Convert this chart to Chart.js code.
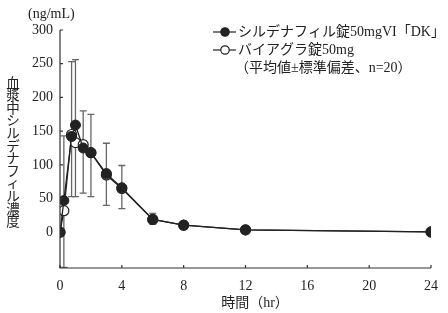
<!DOCTYPE html>
<html>
<head>
<meta charset="utf-8">
<script src="https://cdn.jsdelivr.net/npm/chart.js@4"></script>
<style>
  html, body { margin: 0; padding: 0; background: #fff; }
  #wrap { width: 448px; height: 313px; }
</style>
</head>
<body>
<div id="wrap"><canvas id="pk-chart"></canvas></div>
<script>
// time (hr)
const hours = [0, 0.25, 0.75, 1, 1.5, 2, 3, 4, 6, 8, 12, 24];
// シルデナフィル錠50mgVI「DK」 mean (ng/mL)
const genericMean = [0, 47, 142, 159, 125, 118, 87, 66, 19, 10.5, 3.5, 0.5];
// バイアグラ錠50mg mean (ng/mL)
const viagraMean = [0, 32, 145, 133, 130, 118, 85, 65, 19, 10.5, 3.5, 0.5];
// mean ± SD bars, lower / upper ends
const sdLow = [null, -52, 53, 53, 58, 53, 40, 35, 12, null, null, null];
const sdHigh = [null, 143, 253, 256, 180, 175, 132, 99, 28, null, null, null];
const yTicks = [0, 50, 100, 150, 200, 250, 300];
const xTicks = [0, 4, 8, 12, 16, 20, 24];
const legendLabels = ['シルデナフィル錠50mgVI「DK」', 'バイアグラ錠50mg', '（平均値±標準偏差、n=20）'];
const yTitle = '血漿中シルデナフィル濃度';
const xTitle = '時間（hr）';
const unitLabel = '(ng/mL)';

const FONT = '"Liberation Serif", "Noto Sans CJK JP", serif';
const INK = '#222';

const extras = {
  id: 'extras',
  beforeDatasetsDraw(chart) {
    const { ctx, scales: { x, y } } = chart;
    ctx.save();
    ctx.strokeStyle = '#666';
    ctx.lineWidth = 1.3;
    hours.forEach((h, i) => {
      if (sdLow[i] == null) return;
      const px = x.getPixelForValue(h);
      const lo = y.getPixelForValue(sdLow[i]);
      const hi = y.getPixelForValue(sdHigh[i]);
      ctx.beginPath();
      ctx.moveTo(px, lo); ctx.lineTo(px, hi);
      ctx.moveTo(px - 3.5, lo); ctx.lineTo(px + 3.5, lo);
      ctx.moveTo(px - 3.5, hi); ctx.lineTo(px + 3.5, hi);
      ctx.stroke();
    });
    ctx.restore();
  },
  afterDraw(chart) {
    const { ctx, chartArea, scales: { x, y } } = chart;
    ctx.save();
    // axes
    ctx.strokeStyle = '#333';
    ctx.lineWidth = 1.2;
    ctx.beginPath();
    ctx.moveTo(chartArea.left, y.getPixelForValue(300));
    ctx.lineTo(chartArea.left, chartArea.bottom);
    ctx.lineTo(chartArea.right, chartArea.bottom);
    ctx.stroke();
    ctx.beginPath();
    yTicks.forEach(v => {
      const py = y.getPixelForValue(v);
      ctx.moveTo(chartArea.left, py); ctx.lineTo(chartArea.left + 3, py);
    });
    xTicks.forEach(v => {
      const px = x.getPixelForValue(v);
      ctx.moveTo(px, chartArea.bottom); ctx.lineTo(px, chartArea.bottom - 3);
    });
    ctx.stroke();

    ctx.fillStyle = INK;
    ctx.font = '14px ' + FONT;
    ctx.textBaseline = 'middle';
    ctx.textAlign = 'left';
    ctx.fillText(unitLabel, 28, 14);

    // vertical y-axis title
    ctx.textAlign = 'center';
    ctx.font = '13.5px ' + FONT;
    [...yTitle].forEach((ch, i) => {
      ctx.fillText(ch, 13, 84 + i * 12.6);
    });

    // x title
    ctx.font = '14px ' + FONT;
    ctx.fillText(xTitle, 255, 303);

    // legend
    const lx = 213, rows = [32, 50];
    ctx.lineWidth = 1.2;
    rows.forEach((ry, i) => {
      ctx.strokeStyle = INK;
      ctx.beginPath();
      ctx.moveTo(lx, ry); ctx.lineTo(lx + 23, ry);
      ctx.stroke();
      ctx.beginPath();
      ctx.arc(lx + 12, ry, 4.2, 0, Math.PI * 2);
      ctx.fillStyle = i === 0 ? INK : '#fff';
      ctx.fill();
      ctx.stroke();
    });
    ctx.fillStyle = INK;
    ctx.textAlign = 'left';
    ctx.font = '14px ' + FONT;
    ctx.fillText(legendLabels[0], 238, 32);
    ctx.fillText(legendLabels[1], 238, 50);
    ctx.fillText(legendLabels[2], 235, 68);
    ctx.restore();
  }
};

new Chart(document.getElementById('pk-chart'), {
  type: 'line',
  data: {
    datasets: [
      {
        label: legendLabels[0],
        data: hours.map((h, i) => ({ x: h, y: genericMean[i] })),
        borderColor: INK,
        borderWidth: 1.3,
        pointRadius: 5,
        pointBackgroundColor: INK,
        pointBorderColor: INK,
        pointBorderWidth: 1,
        order: 0
      },
      {
        label: legendLabels[1],
        data: hours.map((h, i) => ({ x: h, y: viagraMean[i] })),
        borderColor: INK,
        borderWidth: 1.3,
        pointRadius: 5,
        pointBackgroundColor: '#fff',
        pointBorderColor: INK,
        pointBorderWidth: 1.2,
        order: 1
      }
    ]
  },
  options: {
    responsive: true,
    maintainAspectRatio: false,
    animation: false,
    layout: { padding: { left: 0, top: 30, right: 16, bottom: 0 } },
    plugins: { legend: { display: false }, tooltip: { enabled: false } },
    scales: {
      x: {
        type: 'linear',
        min: 0,
        max: 24,
        afterFit: s => { s.height = 45; },
        afterBuildTicks: s => { s.ticks = xTicks.map(v => ({ value: v })); },
        grid: { display: false, drawTicks: false },
        border: { display: false },
        ticks: { color: INK, padding: 10, font: { family: FONT, size: 14 } }
      },
      y: {
        min: -53,
        max: 300,
        afterFit: s => { s.width = 60; },
        afterBuildTicks: s => { s.ticks = yTicks.map(v => ({ value: v })); },
        grid: { display: false, drawTicks: false },
        border: { display: false },
        ticks: { color: INK, padding: 7, font: { family: FONT, size: 14 } }
      }
    }
  },
  plugins: [extras]
});
</script>
</body>
</html>
